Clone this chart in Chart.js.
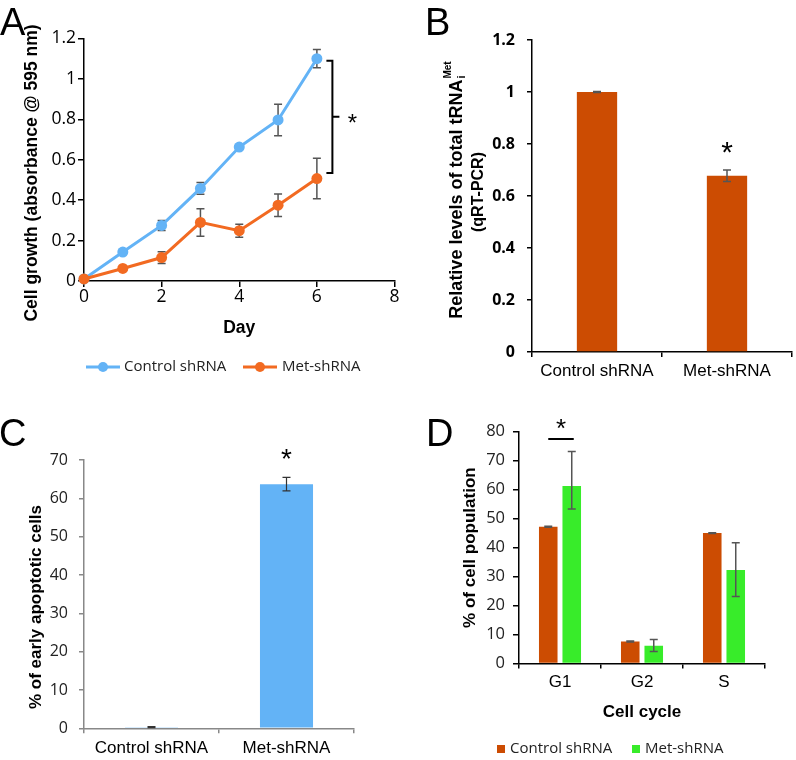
<!DOCTYPE html>
<html><head><meta charset="utf-8">
<script src="https://cdn.jsdelivr.net/npm/chart.js@4.4.1/dist/chart.umd.min.js"></script>
<style>
html,body{margin:0;padding:0;background:#fff;}
#wrap{position:relative;width:796px;height:760px;overflow:hidden;background:#fff;}
canvas{position:absolute;}
</style></head><body>
<div id="wrap">
<canvas id="cA" width="400" height="380" style="left:0;top:0"></canvas>
<canvas id="cB" width="396" height="390" style="left:400px;top:0"></canvas>
<canvas id="cC" width="400" height="380" style="left:0;top:380px"></canvas>
<canvas id="cD" width="396" height="380" style="left:400px;top:380px"></canvas>
</div>
<script>
// ---------- Panel A data ----------
const days = [0, 1, 2, 3, 4, 5, 6];
const controlGrowth = [0.01, 0.143, 0.275, 0.458, 0.663, 0.797, 1.10];
const controlGrowthErr = [0, 0.01, 0.025, 0.029, 0.01, 0.078, 0.045];
const metGrowth = [0.01, 0.062, 0.116, 0.29, 0.249, 0.375, 0.507];
const metGrowthErr = [0, 0.008, 0.029, 0.068, 0.032, 0.056, 0.10];
const dayTicks = ['0', '2', '4', '6', '8'];
const growthTicks = ['0', '0.2', '0.4', '0.6', '0.8', '1', '1.2'];
// ---------- Panel B data ----------
const groups = ['Control shRNA', 'Met-shRNA'];
const trnaLevels = [1.0, 0.678];
const trnaErr = [0.002, 0.022];
const trnaTicks = ['0', '0.2', '0.4', '0.6', '0.8', '1', '1.2'];
// ---------- Panel C data ----------
const apoptotic = [0.3, 63.7];
const apoptoticErr = [0.15, 1.75];
const apoTicks = ['0', '10', '20', '30', '40', '50', '60', '70'];
// ---------- Panel D data ----------
const phases = ['G1', 'G2', 'S'];
const controlCycle = [47.2, 7.6, 45.0];
const controlCycleErr = [0.15, 0.15, 0.15];
const metCycle = [61.3, 6.1, 32.3];
const metCycleErrUp = [11.9, 2.2, 9.4];
const metCycleErrDown = [8.0, 2.0, 9.2];
const cycleTicks = ['0', '10', '20', '30', '40', '50', '60', '70', '80'];

const ARIAL = "'Liberation Sans', Arial, sans-serif";
const OPEN = "'Open Sans', sans-serif";
const BLUE = '#63B3F6';
const ORANGE_A = '#F26A21';
const RUST = '#CC4C02';
const GREEN = '#38EC2A';

Chart.defaults.animation = false;
Chart.defaults.responsive = false;
Chart.defaults.devicePixelRatio = 1;
Chart.defaults.plugins.legend.display = false;
Chart.defaults.plugins.tooltip.enabled = false;
Chart.defaults.font.family = OPEN;
Chart.defaults.color = '#000';

function fixY(w) { return s => { s.width = w; s.paddingTop = 0; s.paddingBottom = 0; }; }
function fixX(h) { return s => { s.height = h; s.paddingLeft = 0; s.paddingRight = 0; }; }
function ticksFrom(labels) { return s => { s.ticks = labels.map(t => ({ value: parseFloat(t) })); }; }

function drawErrors(chart, o) {
  const ctx = chart.ctx, ys = chart.scales.y;
  ctx.save();
  ctx.strokeStyle = o.color || '#555';
  ctx.lineWidth = o.width || 1.5;
  chart.data.datasets.forEach((ds, i) => {
    if (!ds.errPlus) return;
    chart.getDatasetMeta(i).data.forEach((el, j) => {
      const raw = ds.data[j];
      const v = typeof raw === 'object' ? raw.y : raw;
      const up = ds.errPlus[j], dn = ds.errMinus[j];
      if (!up && !dn) return;
      const yt = ys.getPixelForValue(v + up), yb = ys.getPixelForValue(v - dn);
      const x = el.x, c = (o.cap || 8) / 2;
      ctx.beginPath();
      ctx.moveTo(x, yt); ctx.lineTo(x, yb);
      ctx.moveTo(x - c, yt); ctx.lineTo(x + c, yt);
      ctx.moveTo(x - c, yb); ctx.lineTo(x + c, yb);
      ctx.stroke();
    });
  });
  ctx.restore();
}
Chart.register({
  id: 'errorBars',
  beforeDatasetsDraw(chart, args, o) { if (o.under) drawErrors(chart, o); },
  afterDatasetsDraw(chart, args, o) { if (!o.under) drawErrors(chart, o); }
});

function panelLetter(ctx, t, x, y) {
  ctx.save(); ctx.font = '38px ' + ARIAL; ctx.fillStyle = '#000';
  ctx.textAlign = 'left'; ctx.textBaseline = 'alphabetic'; ctx.fillText(t, x, y); ctx.restore();
}
function star(ctx, x, cy, size) {
  ctx.save(); ctx.font = size + 'px ' + ARIAL; ctx.fillStyle = '#000';
  ctx.textAlign = 'center'; ctx.textBaseline = 'alphabetic'; ctx.fillText('*', x, cy + 0.58 * size); ctx.restore();
}
function rotText(ctx, text, cx, cy, font) {
  ctx.save(); ctx.translate(cx, cy); ctx.rotate(-Math.PI / 2); ctx.font = font; ctx.fillStyle = '#000';
  ctx.textAlign = 'center'; ctx.textBaseline = 'middle'; ctx.fillText(text, 0, 0); ctx.restore();
}
function axisStyle(color, tl) {
  return { drawOnChartArea: false, drawTicks: true, tickLength: tl, color: color, lineWidth: 1.5 };
}

// ================= Panel A =================
const bracketA = { day: 6.4, top: 1.09, bottom: 0.535 };
new Chart(document.getElementById('cA'), {
  type: 'line',
  data: {
    datasets: [
      { label: 'Control shRNA', data: days.map((d, i) => ({ x: d, y: controlGrowth[i] })),
        errPlus: controlGrowthErr, errMinus: controlGrowthErr,
        borderColor: BLUE, backgroundColor: BLUE, borderWidth: 3, pointRadius: 5.5, pointBorderWidth: 0,
        pointBackgroundColor: BLUE, clip: false, order: 1 },
      { label: 'Met-shRNA', data: days.map((d, i) => ({ x: d, y: metGrowth[i] })),
        errPlus: metGrowthErr, errMinus: metGrowthErr,
        borderColor: ORANGE_A, backgroundColor: ORANGE_A, borderWidth: 3, pointRadius: 5.5, pointBorderWidth: 0,
        pointBackgroundColor: ORANGE_A, clip: false, order: 0 }
    ]
  },
  options: {
    layout: { padding: { left: 0, top: 38.5, right: 5, bottom: 37.8 } },
    scales: {
      x: { type: 'linear', min: 0, max: 8, afterBuildTicks: ticksFrom(dayTicks), afterFit: fixX(61.2),
        grid: axisStyle('#000', 6), border: { color: '#000', width: 1.5 },
        ticks: { padding: 0, color: '#000', font: { family: OPEN, size: 17.5 }, maxRotation: 0, autoSkip: false,
          callback: (v, i) => dayTicks[i] },
        title: { display: true, text: 'Day', color: '#000', font: { family: ARIAL, size: 17.5, weight: 'bold' }, padding: { top: 0, bottom: 4 } } },
      y: { min: 0, max: 1.2, afterBuildTicks: ticksFrom(growthTicks), afterFit: fixY(84),
        grid: axisStyle('#000', 6), border: { color: '#000', width: 1.5 },
        ticks: { padding: 2, color: '#000', font: { family: OPEN, size: 17.5 }, autoSkip: false,
          callback: (v, i) => growthTicks[i] } }
    },
    plugins: { errorBars: { under: true, color: '#555', width: 1.5, cap: 8 } }
  },
  plugins: [{
    id: 'decoA',
    afterDraw(chart) {
      const ctx = chart.ctx, xs = chart.scales.x, ys = chart.scales.y;
      panelLetter(ctx, 'A', 0, 35);
      rotText(ctx, 'Cell growth (absorbance @ 595 nm)', 32, 173, 'bold 17.5px ' + ARIAL);
      const bx = xs.getPixelForValue(bracketA.day);
      const yT = ys.getPixelForValue(bracketA.top), yB = ys.getPixelForValue(bracketA.bottom);
      const yM = (yT + yB) / 2;
      ctx.save(); ctx.strokeStyle = '#000'; ctx.lineWidth = 2;
      ctx.beginPath();
      ctx.moveTo(bx - 6, yT); ctx.lineTo(bx, yT); ctx.lineTo(bx, yB); ctx.lineTo(bx - 6, yB);
      ctx.moveTo(bx, yM); ctx.lineTo(bx + 7, yM);
      ctx.stroke(); ctx.restore();
      star(ctx, bx + 20, yM, 24);
      // legend
      const ly = 367;
      const items = [[86, 124], [243, 282]];
      chart.data.datasets.forEach((ds, i) => {
        const [x0, tx] = items[i];
        ctx.save();
        ctx.strokeStyle = ds.borderColor; ctx.lineWidth = 3;
        ctx.beginPath(); ctx.moveTo(x0, ly); ctx.lineTo(x0 + 34, ly); ctx.stroke();
        ctx.fillStyle = ds.borderColor; ctx.beginPath(); ctx.arc(x0 + 17, ly, 5, 0, Math.PI * 2); ctx.fill();
        ctx.fillStyle = '#222'; ctx.font = '15px ' + OPEN; ctx.textAlign = 'left'; ctx.textBaseline = 'middle';
        ctx.fillText(ds.label, tx, ly);
        ctx.restore();
      });
    }
  }]
});

// ================= Panel B =================
new Chart(document.getElementById('cB'), {
  type: 'bar',
  data: {
    labels: groups,
    datasets: [{ label: 'tRNAi Met', data: trnaLevels, errPlus: trnaErr, errMinus: trnaErr,
      backgroundColor: RUST, borderWidth: 0, barPercentage: 0.31, categoryPercentage: 1.0 }]
  },
  options: {
    layout: { padding: { left: 0, top: 40, right: 4, bottom: 8 } },
    scales: {
      x: { afterFit: fixX(30), grid: axisStyle('#000', 5), border: { color: '#000', width: 1.5 },
        ticks: { padding: 4, color: '#000', font: { family: ARIAL, size: 17 }, maxRotation: 0, autoSkip: false } },
      y: { min: 0, max: 1.2, afterBuildTicks: ticksFrom(trnaTicks), afterFit: fixY(132),
        grid: axisStyle('#000', 5), border: { color: '#000', width: 1.5 },
        ticks: { padding: 12, color: '#000', font: { family: OPEN, size: 16, weight: 'bold' }, autoSkip: false,
          callback: (v, i) => trnaTicks[i] } }
    },
    plugins: { errorBars: { under: false, color: '#555', width: 1.5, cap: 8 } }
  },
  plugins: [{
    id: 'decoB',
    afterDraw(chart) {
      const ctx = chart.ctx, ys = chart.scales.y;
      panelLetter(ctx, 'B', 25, 35);
      // y title with subscript / superscript
      ctx.save();
      ctx.translate(55, 190); ctx.rotate(-Math.PI / 2);
      ctx.fillStyle = '#000'; ctx.textAlign = 'left'; ctx.textBaseline = 'alphabetic';
      const main = 'Relative levels of total tRNA';
      ctx.font = 'bold 18px ' + ARIAL; const wMain = ctx.measureText(main).width;
      ctx.font = 'bold 10px ' + ARIAL; const wSup = ctx.measureText('Met').width;
      const x0 = -(wMain + wSup + 1) / 2;
      ctx.font = 'bold 18px ' + ARIAL; ctx.fillText(main, x0, 6.5);
      ctx.font = 'bold 11px ' + ARIAL; ctx.fillText('i', x0 + wMain + 1, 10);
      ctx.font = 'bold 10px ' + ARIAL; ctx.fillText('Met', x0 + wMain + 1, -4);
      ctx.restore();
      rotText(ctx, '(qRT-PCR)', 79, 192, 'bold 16px ' + ARIAL);
      const el = chart.getDatasetMeta(0).data[1];
      const ds = chart.data.datasets[0];
      star(ctx, el.x, ys.getPixelForValue(ds.data[1] + ds.errPlus[1]) - 25, 30);
    }
  }]
});

// ================= Panel C =================
new Chart(document.getElementById('cC'), {
  type: 'bar',
  data: {
    labels: groups,
    datasets: [{ label: 'Early apoptotic', data: apoptotic, errPlus: apoptoticErr, errMinus: apoptoticErr,
      backgroundColor: BLUE, borderWidth: 0, barPercentage: 0.393, categoryPercentage: 1.0 }]
  },
  options: {
    layout: { padding: { left: 0, top: 80, right: 46, bottom: 1.7 } },
    scales: {
      x: { afterFit: fixX(30), grid: axisStyle('#888', 5), border: { color: '#888', width: 1.5 },
        ticks: { padding: 5, color: '#000', font: { family: ARIAL, size: 17 }, maxRotation: 0, autoSkip: false } },
      y: { min: 0, max: 70, afterBuildTicks: ticksFrom(apoTicks), afterFit: fixY(84),
        grid: axisStyle('#888', 5), border: { color: '#888', width: 1.5 },
        ticks: { padding: 11, color: '#222', font: { family: OPEN, size: 16 }, autoSkip: false,
          callback: (v, i) => apoTicks[i] } }
    },
    plugins: { errorBars: { under: false, color: '#333', width: 1.2, cap: 8 } }
  },
  plugins: [{
    id: 'decoC',
    afterDraw(chart) {
      const ctx = chart.ctx, ys = chart.scales.y;
      panelLetter(ctx, 'C', -1, 66);
      rotText(ctx, '% of early apoptotic cells', 36, 227, 'bold 17px ' + ARIAL);
      const el = chart.getDatasetMeta(0).data[1];
      const ds = chart.data.datasets[0];
      star(ctx, el.x, ys.getPixelForValue(ds.data[1] + ds.errPlus[1]) - 26, 28);
    }
  }]
});

// ================= Panel D =================
new Chart(document.getElementById('cD'), {
  type: 'bar',
  data: {
    labels: phases,
    datasets: [
      { label: 'Control shRNA', data: controlCycle, errPlus: controlCycleErr, errMinus: controlCycleErr,
        backgroundColor: RUST, borderWidth: 0, barPercentage: 0.79, categoryPercentage: 0.573 },
      { label: 'Met-shRNA', data: metCycle, errPlus: metCycleErrUp, errMinus: metCycleErrDown,
        backgroundColor: GREEN, borderWidth: 0, barPercentage: 0.79, categoryPercentage: 0.573 }
    ]
  },
  options: {
    layout: { padding: { left: 55.8, top: 51.7, right: 31, bottom: 33.8 } },
    scales: {
      x: { afterFit: fixX(62.7), grid: axisStyle('#000', 5), border: { color: '#000', width: 1.5 },
        ticks: { padding: 4, color: '#000', font: { family: ARIAL, size: 17 }, maxRotation: 0, autoSkip: false },
        title: { display: true, text: 'Cell cycle', color: '#000', font: { family: ARIAL, size: 17, weight: 'bold' }, padding: { top: 0, bottom: 4 } } },
      y: { min: 0, max: 80, afterBuildTicks: ticksFrom(cycleTicks), afterFit: fixY(63.2),
        grid: axisStyle('#000', 6), border: { color: '#000', width: 1.5 },
        ticks: { padding: 8, color: '#222', font: { family: OPEN, size: 16.5 }, autoSkip: false,
          callback: (v, i) => cycleTicks[i] },
        title: { display: true, text: '% of cell population', color: '#000', font: { family: ARIAL, size: 17, weight: 'bold' }, padding: { top: 4, bottom: 0 } } }
    },
    plugins: { errorBars: { under: false, color: '#555', width: 1.5, cap: 8 } }
  },
  plugins: [{
    id: 'decoD',
    afterDraw(chart) {
      const ctx = chart.ctx;
      panelLetter(ctx, 'D', 26, 66);
      const a = chart.getDatasetMeta(0).data[0], b = chart.getDatasetMeta(1).data[0];
      const lineY = 59;
      ctx.save(); ctx.strokeStyle = '#000'; ctx.lineWidth = 2;
      ctx.beginPath(); ctx.moveTo(a.x, lineY); ctx.lineTo(b.x + 2, lineY); ctx.stroke(); ctx.restore();
      star(ctx, (a.x + b.x) / 2 + 1, lineY - 17, 26);
      // legend
      const pos = [[97, 110], [232, 245]];
      chart.data.datasets.forEach((ds, i) => {
        const [bx, tx] = pos[i];
        ctx.save();
        ctx.fillStyle = ds.backgroundColor; ctx.fillRect(bx, 365, 8, 8);
        ctx.fillStyle = '#222'; ctx.font = '15px ' + OPEN; ctx.textAlign = 'left'; ctx.textBaseline = 'middle';
        ctx.fillText(ds.label, tx, 369);
        ctx.restore();
      });
    }
  }]
});
</script>
</body></html>
